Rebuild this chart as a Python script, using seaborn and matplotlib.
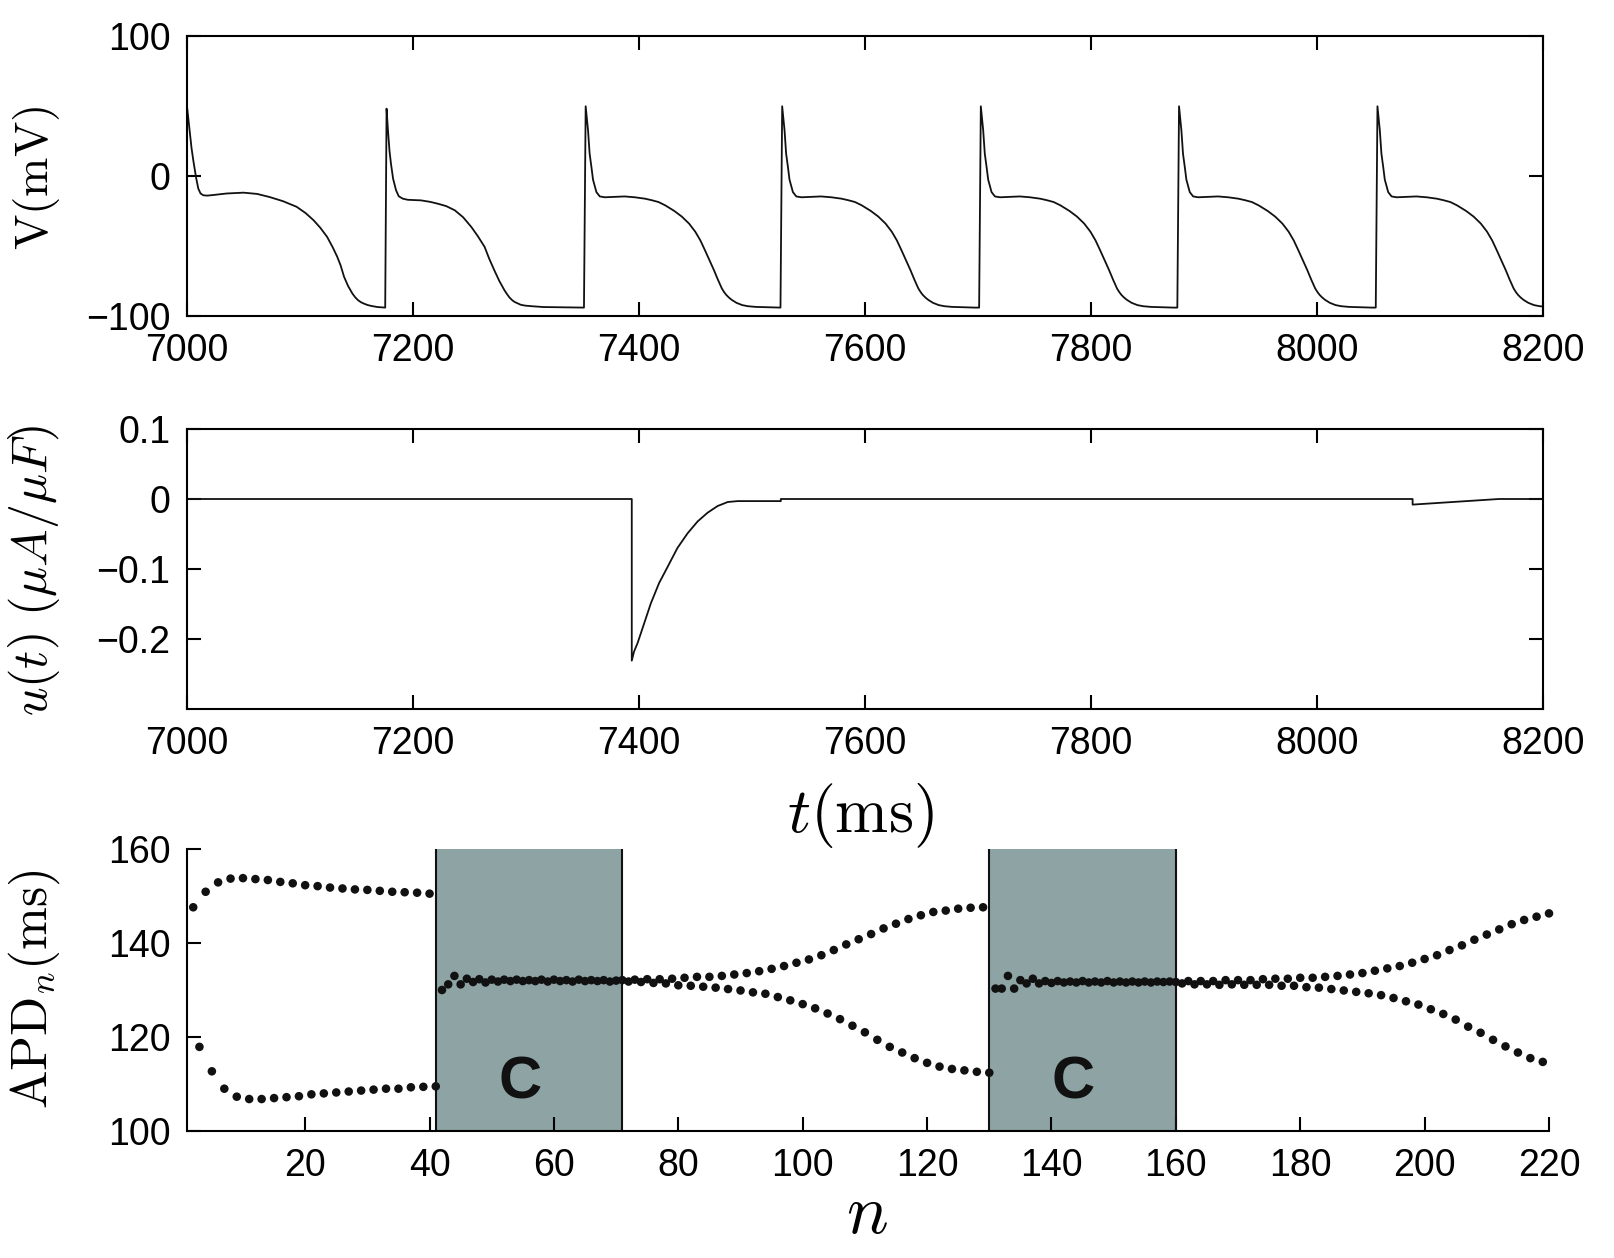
#!/usr/bin/env python3
"""
Alternans control figure: membrane potential, control current and APD_n.
"""

import pandas as pd
import matplotlib
matplotlib.use("Agg")
import matplotlib.pyplot as plt
import seaborn as sns

# ── V(t): first (partial) beat, absolute times (ms) / potential (mV) ─────────
BEAT1_T = [7000, 7002, 7004, 7005.6, 7008, 7010, 7012, 7014.5, 7018, 7023,
           7035, 7050, 7062, 7073, 7085, 7097, 7105, 7112, 7118, 7124, 7129,
           7133, 7136, 7139, 7142.5, 7146.4, 7149, 7151.5, 7154, 7157, 7160,
           7163, 7168.6, 7175.4]
BEAT1_V = [49.8, 35, 20, 11, -1, -9, -12.5, -13.8, -14, -13.6,
           -12.5, -11.9, -12.8, -15, -18, -22, -26.5, -31.6, -37, -43.5, -51,
           -57.8, -64, -72, -78.5, -84, -86.8, -88.8, -90.2, -91.3, -92.2,
           -92.8, -93.6, -94]

# short beat (relative to upstroke)
SHORT_T = [0, 1.2, 2.5, 3.8, 5.1, 7, 9.6, 12, 15.6, 20, 31.6, 40, 46.6, 54,
           61.6, 69, 76.2, 82, 88, 92, 96.6, 101, 105.6, 108, 110, 112.5,
           114.6, 117.5, 120, 124, 129.6, 140, 172]
SHORT_V = [-94, 48.1, 32, 18, 8.8, -2, -10.2, -14.5, -16.2, -17, -17.4, -18.5,
           -19.8, -21.5, -24.5, -29.5, -36.4, -43, -50.7, -59, -67.4, -75,
           -81.7, -84.6, -86.8, -88.8, -90, -91.1, -92, -92.6, -93, -93.6,
           -94]

# long beat (relative to upstroke)
LONG_T = [0, 1.5, 3.6, 5, 6.6, 8, 11, 14, 18.5, 25, 36, 45, 54, 60, 66, 72,
          80, 86.6, 93, 98.5, 103, 107, 111, 115, 118.5, 122, 124, 126, 128.5,
          131, 135, 140, 145, 152, 172]
LONG_V = [-94, 49.8, 32.6, 16, 6.4, -2.6, -11.5, -14.6, -15.2, -15, -14.6,
          -15.2, -16.2, -17.3, -18.6, -21, -25, -29, -34, -39.8, -46, -52.9,
          -60, -67.2, -74, -80.3, -82.9, -85, -87, -88.6, -90.6, -92.2,
          -93, -93.5, -94]

BEAT_ONSETS = [7175.4, 7351.3, 7525.2, 7701.0, 7876.4, 8052.0]
BEAT_KIND = ["short", "long", "long", "long", "long", "long"]

# ── u(t) control current (µA/µF) ─────────────────────────────────────────────
U_T = [7000, 7393.6, 7393.6, 7395.6, 7398.7, 7404.5, 7410.5, 7417.8, 7425.3,
       7434, 7443, 7451.9, 7460.7, 7469.6, 7478.5, 7487.3, 7525.5, 7525.5,
       8084.6, 8084.6, 8161, 8200]
U_V = [0, 0, -0.231, -0.218, -0.206, -0.178, -0.149, -0.120, -0.097,
       -0.070, -0.049, -0.032, -0.0196, -0.010, -0.0043, -0.003, -0.003, 0,
       0, -0.008, 0, 0]

# ── APD_n (ms) ───────────────────────────────────────────────────────────────
SEG1_UPPER = [147.6, 150.9, 152.9, 153.7, 153.8, 153.6, 153.4, 153.0, 152.7,
              152.3, 152.1, 151.8, 151.6, 151.4, 151.3, 151.1, 150.9, 150.8,
              150.7, 150.5]                                  # n = 2,4,...,40
SEG1_LOWER = [117.9, 112.7, 109.0, 107.3, 106.8, 106.8, 107.0, 107.2, 107.4,
              107.8, 108.0, 108.2, 108.4, 108.6, 108.8, 109.0, 109.0, 109.3,
              109.4, 109.5]                                  # n = 3,5,...,41
CTRL1 = [130.0, 131.2, 133.0, 131.2, 132.4, 131.7, 132.3, 131.6, 132.2, 131.8,
         132.2, 131.9, 132.2, 131.9, 132.1, 131.9, 132.2, 131.8, 132.2, 131.9,
         132.1, 131.8, 132.2, 131.9, 132.1, 131.9, 132.1, 131.8, 132.0]  # n = 42..70
SEG2_UPPER = [132.1, 132.2, 132.3, 132.3, 132.4, 132.6, 132.8, 132.8, 133.0,
              133.3, 133.6, 134.0, 134.5, 135.1, 135.8, 136.5, 137.4, 138.5,
              139.7, 140.8, 141.9, 143.1, 144.1, 145.1, 145.9, 146.6, 146.9,
              147.3, 147.5, 147.6]                           # n = 71,73,...,129
SEG2_LOWER = [131.8, 131.7, 131.5, 131.4, 131.0, 130.9, 130.7, 130.5, 130.2,
              129.9, 129.5, 129.2, 128.5, 127.8, 127.0, 126.1, 125.0, 123.8,
              122.4, 121.0, 119.4, 117.9, 116.7, 115.5, 114.5, 113.7, 113.2,
              112.9, 112.6, 112.4]                           # n = 72,74,...,130
CTRL2 = [130.3, 130.3, 133.0, 130.3, 132.1, 131.4, 132.4, 131.4, 131.9, 131.5,
         131.9, 131.6, 131.8, 131.6, 131.9, 131.6, 131.8, 131.6, 131.9, 131.6,
         131.8, 131.6, 131.8, 131.6, 131.8, 131.6, 131.8, 131.7, 131.8, 131.7]  # n = 131..160
SEG3_UPPER = [131.9, 131.9, 131.9, 132.1, 132.1, 132.1, 132.3, 132.4, 132.4,
              132.6, 132.6, 132.8, 133.0, 133.3, 133.6, 134.1, 134.6, 135.1,
              135.8, 136.6, 137.4, 138.5, 139.5, 140.7, 141.8, 142.9, 144.0,
              144.9, 145.6, 146.3]                           # n = 162,164,...,220
SEG3_LOWER = [131.4, 131.2, 131.2, 131.1, 131.2, 131.1, 131.1, 131.1, 130.9,
              130.9, 130.6, 130.5, 130.2, 129.9, 129.6, 129.3, 128.9, 128.3,
              127.6, 126.9, 125.9, 124.9, 123.7, 122.2, 120.9, 119.4, 118.0,
              116.7, 115.5, 114.7]                           # n = 161,163,...,219

CONTROL_WINDOWS = [(41, 71), (130, 160)]
SHADE = "#8da3a4"
INK = "#111111"

sns.set_style("ticks")
plt.rcParams["font.family"] = ["Liberation Sans", "DejaVu Sans"]
plt.rcParams["mathtext.fontset"] = "cm"
plt.rcParams["axes.linewidth"] = 1.5
for key in ("text.color", "axes.labelcolor", "xtick.color", "ytick.color",
            "axes.edgecolor"):
    plt.rcParams[key] = "black"


def build_voltage():
    t, v = list(BEAT1_T), list(BEAT1_V)
    shapes = {"short": (SHORT_T, SHORT_V), "long": (LONG_T, LONG_V)}
    for onset, kind in zip(BEAT_ONSETS, BEAT_KIND):
        rt, rv = shapes[kind]
        t += [onset + x for x in rt]
        v += rv
    return pd.DataFrame({"t": t, "V": v})


def build_apd():
    parts = [
        (range(2, 41, 2), SEG1_UPPER), (range(3, 42, 2), SEG1_LOWER),
        (range(42, 71), CTRL1),
        (range(71, 130, 2), SEG2_UPPER), (range(72, 131, 2), SEG2_LOWER),
        (range(131, 161), CTRL2),
        (range(162, 221, 2), SEG3_UPPER), (range(161, 220, 2), SEG3_LOWER),
    ]
    rows = [(n, a) for ns, vals in parts for n, a in zip(ns, vals)]
    return pd.DataFrame(rows, columns=["n", "APD"])


def style_axis(ax, box=True):
    ax.tick_params(direction="in", length=10, width=1.5, labelsize=27,
                   pad=12, top=box, right=box, colors="black")
    for side in ("top", "right"):
        ax.spines[side].set_visible(box)
    ax.set_xlabel("")
    ax.set_ylabel("")


W, H = 1615, 1258
fig = plt.figure(figsize=(W / 100, H / 100), dpi=100)


def px_axes(left, top, right, bottom):
    return fig.add_axes([left / W, 1 - bottom / H, (right - left) / W,
                         (bottom - top) / H])


# ── panel 1: V(t) ────────────────────────────────────────────────────────────
ax1 = px_axes(187, 36, 1543, 316)
sns.lineplot(data=build_voltage(), x="t", y="V", ax=ax1, color=INK, lw=1.3,
             estimator=None, sort=False)
ax1.set_xlim(7000, 8200)
ax1.set_ylim(-100, 100)
ax1.set_xticks(range(7000, 8201, 200))
ax1.set_yticks([-100, 0, 100])
style_axis(ax1)

# ── panel 2: u(t) ────────────────────────────────────────────────────────────
ax2 = px_axes(187, 429, 1543, 709)
sns.lineplot(x=U_T, y=U_V, ax=ax2, color=INK, lw=1.3, estimator=None,
             sort=False)
ax2.set_xlim(7000, 8200)
ax2.set_ylim(-0.3, 0.1)
ax2.set_xticks(range(7000, 8201, 200))
ax2.set_yticks([-0.2, -0.1, 0, 0.1])
ax2.set_yticklabels(["\u22120.2", "\u22120.1", "0", "0.1"])
style_axis(ax2)

# ── panel 3: APD_n ───────────────────────────────────────────────────────────
ax3 = px_axes(187, 849, 1549, 1131)
for a, b in CONTROL_WINDOWS:
    ax3.axvspan(a, b, color=SHADE, lw=0, zorder=0)
    ax3.axvline(a, color=INK, lw=1.5, zorder=1)
    ax3.axvline(b, color=INK, lw=1.5, zorder=1)
    ax3.text(a + 13.5, 110.2, "C", fontsize=43, fontweight="bold",
             ha="center", va="center", color=INK)
sns.scatterplot(data=build_apd(), x="n", y="APD", ax=ax3, color=INK, s=38,
                edgecolor="none", clip_on=False, zorder=3)
ax3.set_xlim(1, 220)
ax3.set_ylim(100, 160)
ax3.set_xticks(range(20, 221, 20))
ax3.set_yticks([100, 120, 140, 160])
style_axis(ax3, box=False)

# ── axis titles ──────────────────────────────────────────────────────────────
fig.text(37 / W, 1 - 178 / H, r"$\mathrm{V(mV)}$", rotation=90,
         ha="center", va="center", fontsize=34)
fig.text(34 / W, 1 - 571 / H, r"$u(t)\ (\mu A/\mu F)$", rotation=90,
         ha="center", va="center", fontsize=36)
fig.text(34 / W, 1 - 989 / H, r"$\mathrm{APD}_n(\mathrm{ms})$", rotation=90,
         ha="center", va="center", fontsize=37)
fig.text(860 / W, 1 - 815 / H, r"$t(\mathrm{ms})$", ha="center",
         va="center", fontsize=46)
fig.text(867 / W, 1 - 1215 / H, r"$n$", ha="center", va="center",
         fontsize=50)

fig.savefig("out.png", dpi=100)
